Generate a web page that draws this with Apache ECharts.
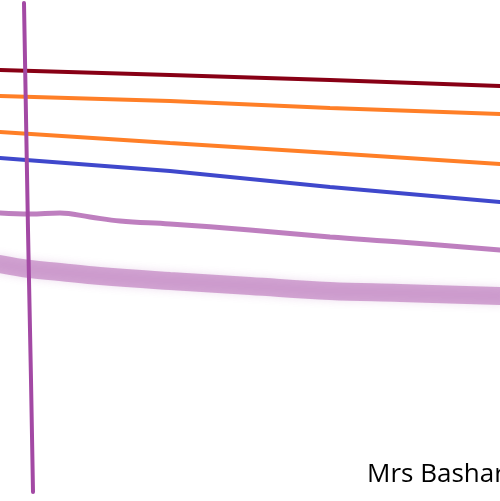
<!DOCTYPE html>
<html>
<head>
<meta charset="utf-8">
<script src="https://cdn.jsdelivr.net/npm/echarts@6/dist/echarts.min.js"></script>
<style>
  html, body { margin: 0; padding: 0; background: #fff; }
  #chart { width: 500px; height: 501px; }
</style>
</head>
<body>
<div id="chart"></div>
<script>
// sketch strokes, [x, y] in canvas units (y grows downwards)
const darkRedLine = [[0, 70], [170, 75], [330, 80], [500, 86]];
const orangeTop = [[0, 96], [170, 101], [330, 108], [500, 114]];
const orangeLow = [[0, 132], [170, 143], [330, 153], [500, 164]];
const blueLine = [[0, 158], [170, 171], [330, 187], [500, 202]];
const purpleThin = [[0, 213], [30, 214], [60, 213], [90, 217], [120, 221], [170, 224], [250, 230], [330, 237], [400, 242], [500, 250]];
const purpleThick = [[0, 264], [30, 269], [60, 272], [100, 276], [170, 281], [250, 286], [330, 291], [400, 293], [500, 296]];
const verticalStroke = [[24, 3], [28, 230], [31, 380], [33, 492]];
const captionText = "Mrs Bashar";

const chart = echarts.init(document.getElementById("chart"));

function stroke(data, color, width, extra, smooth) {
  return {
    type: "line",
    data: data,
    symbol: "none",
    silent: true,
    smooth: smooth || false,
    lineStyle: Object.assign({ color: color, width: width, cap: "round" }, extra || {}),
  };
}

chart.setOption({
  animation: false,
  grid: { left: 0, right: 0, top: 0, bottom: 0 },
  title: {
    text: captionText,
    left: 362,
    top: 457,
    textStyle: {
      fontFamily: "Open Sans",
      fontSize: 26,
      fontWeight: "normal",
      color: "#000",
    },
  },
  xAxis: { type: "value", min: 0, max: 500, show: false },
  yAxis: { type: "value", min: 0, max: 501, inverse: true, show: false },
  series: [
    stroke(darkRedLine, "#880015", 4),
    stroke(orangeTop, "#ff7f27", 4),
    stroke(orangeLow, "#ff7f27", 4),
    stroke(blueLine, "#3f48cc", 4),
    stroke(purpleThin, "rgba(163,73,164,0.7)", 5, null, 0.4),
    stroke(purpleThick, "rgba(163,73,164,0.45)", 18, { shadowBlur: 8, shadowColor: "rgba(163,73,164,0.4)" }, 0.4),
    stroke(verticalStroke, "#a349a4", 4),
  ],
});
</script>
</body>
</html>
